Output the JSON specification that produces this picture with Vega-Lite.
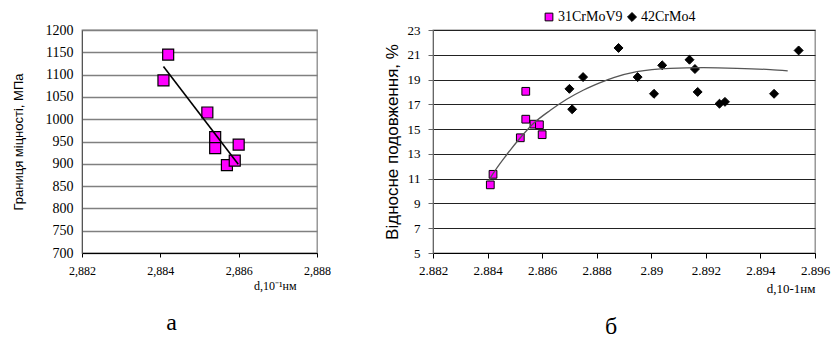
{
  "$schema": "https://vega.github.io/schema/vega-lite/v6.json",
  "background": "white",
  "padding": {"left": 11, "top": 10, "right": 0, "bottom": 0},
  "bounds": "flush",
  "spacing": 116,
  "datasets": {
    "strength": [
      {"d": 2.88408, "mpa": 1087},
      {"d": 2.8842, "mpa": 1145},
      {"d": 2.8852, "mpa": 1015},
      {"d": 2.8854, "mpa": 960},
      {"d": 2.8854, "mpa": 935},
      {"d": 2.8857, "mpa": 897},
      {"d": 2.8859, "mpa": 907},
      {"d": 2.886, "mpa": 943}
    ],
    "strengthTrend": [
      {"d": 2.88408, "mpa": 1118},
      {"d": 2.88599, "mpa": 899}
    ],
    "elong": [
      {"d": 2.8841, "e": 10.5, "steel": "31CrMoV9"},
      {"d": 2.8842, "e": 11.35, "steel": "31CrMoV9"},
      {"d": 2.8852, "e": 14.3, "steel": "31CrMoV9"},
      {"d": 2.8854, "e": 18.05, "steel": "31CrMoV9"},
      {"d": 2.8854, "e": 15.8, "steel": "31CrMoV9"},
      {"d": 2.8857, "e": 15.4, "steel": "31CrMoV9"},
      {"d": 2.8859, "e": 15.35, "steel": "31CrMoV9"},
      {"d": 2.886, "e": 14.55, "steel": "31CrMoV9"},
      {"d": 2.887, "e": 18.25, "steel": "42CrMo4"},
      {"d": 2.8871, "e": 16.6, "steel": "42CrMo4"},
      {"d": 2.8875, "e": 19.2, "steel": "42CrMo4"},
      {"d": 2.8888, "e": 21.55, "steel": "42CrMo4"},
      {"d": 2.8895, "e": 19.2, "steel": "42CrMo4"},
      {"d": 2.8901, "e": 17.85, "steel": "42CrMo4"},
      {"d": 2.8904, "e": 20.15, "steel": "42CrMo4"},
      {"d": 2.8914, "e": 20.6, "steel": "42CrMo4"},
      {"d": 2.8916, "e": 19.85, "steel": "42CrMo4"},
      {"d": 2.8917, "e": 18.0, "steel": "42CrMo4"},
      {"d": 2.8925, "e": 17.05, "steel": "42CrMo4"},
      {"d": 2.8927, "e": 17.2, "steel": "42CrMo4"},
      {"d": 2.8945, "e": 17.85, "steel": "42CrMo4"},
      {"d": 2.8954, "e": 21.35, "steel": "42CrMo4"}
    ],
    "elongTrend": [
      {"d": 2.88405, "e": 10.85},
      {"d": 2.8842, "e": 11.4},
      {"d": 2.8847, "e": 12.93},
      {"d": 2.8852, "e": 14.3},
      {"d": 2.88568, "e": 15.45},
      {"d": 2.8863, "e": 16.52},
      {"d": 2.8869, "e": 17.41},
      {"d": 2.88752, "e": 18.16},
      {"d": 2.88813, "e": 18.75},
      {"d": 2.88862, "e": 19.16},
      {"d": 2.88947, "e": 19.64},
      {"d": 2.89069, "e": 19.91},
      {"d": 2.89191, "e": 19.96},
      {"d": 2.89313, "e": 19.91},
      {"d": 2.89436, "e": 19.8},
      {"d": 2.895, "e": 19.7}
    ]
  },
  "hconcat": [
    {
      "width": 235,
      "height": 223,
      "title": {"text": "а", "orient": "bottom", "font": "Liberation Serif", "fontSize": 24, "fontWeight": "normal", "color": "#000", "offset": 20, "dx": -28},
      "encoding": {
        "x": {
          "field": "d", "type": "quantitative",
          "scale": {"domain": [2.882, 2.888], "zero": false, "nice": false},
          "axis": {
            "values": [2.882, 2.884, 2.886, 2.888],
            "labelExpr": "replace(format(datum.value, '.3f'), '.', ',')",
            "labelFlush": false,
            "grid": false,
            "domainColor": "#000",
            "tickColor": "#000",
            "tickSize": 4,
            "labelFont": "Liberation Serif",
            "labelFontSize": 12,
            "labelColor": "#000",
            "labelPadding": 8,
            "title": "d,10⁻¹нм",
            "titleFont": "Liberation Serif",
            "titleFontSize": 12,
            "titleFontWeight": "normal",
            "titleColor": "#000",
            "titleAnchor": "end",
            "titlePadding": 4,
            "titleX": 214
          }
        },
        "y": {
          "field": "mpa", "type": "quantitative",
          "scale": {"domain": [700, 1200], "zero": false, "nice": false},
          "axis": {
            "values": [700, 750, 800, 850, 900, 950, 1000, 1050, 1100, 1150, 1200],
            "format": "d",
            "grid": true,
            "gridColor": "#808080",
            "gridWidth": 1.3,
            "domainColor": "#555",
            "ticks": false,
            "labelFont": "Liberation Serif",
            "labelFontSize": 14,
            "labelColor": "#000",
            "labelPadding": 9,
            "title": "Границя міцності, МПа",
            "titleFont": "Liberation Sans",
            "titleFontSize": 13,
            "titleFontWeight": "normal",
            "titleColor": "#000",
            "titlePadding": 20
          }
        }
      },
      "layer": [
        {
          "data": {"name": "strength"},
          "mark": {"type": "square", "size": 121, "filled": true, "color": "#FF00FF", "stroke": "#000", "strokeWidth": 1.2, "opacity": 1}
        },
        {
          "data": {"name": "strengthTrend"},
          "mark": {"type": "line", "color": "#000", "strokeWidth": 1.6}
        }
      ]
    },
    {
      "width": 382,
      "height": 223,
      "title": {"text": "б", "orient": "bottom", "font": "Liberation Serif", "fontSize": 24, "fontWeight": "normal", "color": "#000", "offset": 20, "dx": -13},
      "encoding": {
        "x": {
          "field": "d", "type": "quantitative",
          "scale": {"domain": [2.882, 2.896], "zero": false, "nice": false},
          "axis": {
            "values": [2.882, 2.884, 2.886, 2.888, 2.89, 2.892, 2.894, 2.896],
            "labelExpr": "format(datum.value, '.4~f')",
            "labelFlush": false,
            "grid": false,
            "domainColor": "#000",
            "tickColor": "#000",
            "tickSize": 5,
            "labelFont": "Liberation Serif",
            "labelFontSize": 13,
            "labelColor": "#000",
            "labelPadding": 6,
            "title": "d,10-1нм",
            "titleFont": "Liberation Serif",
            "titleFontSize": 13,
            "titleFontWeight": "normal",
            "titleColor": "#000",
            "titleAnchor": "end",
            "titlePadding": 5
          }
        },
        "y": {
          "field": "e", "type": "quantitative",
          "scale": {"domain": [5, 23], "zero": false, "nice": false},
          "axis": {
            "values": [5, 7, 9, 11, 13, 15, 17, 19, 21, 23],
            "grid": true,
            "gridColor": "#222",
            "gridWidth": 1.2,
            "domainColor": "#666",
            "tickColor": "#666",
            "tickSize": 5,
            "labelFont": "Liberation Serif",
            "labelFontSize": 13,
            "labelColor": "#000",
            "labelPadding": 8,
            "title": "Відносне подовження, %",
            "titleFont": "Liberation Sans",
            "titleFontSize": 17,
            "titleFontWeight": "normal",
            "titleColor": "#000",
            "titlePadding": 6
          }
        }
      },
      "layer": [
        {
          "data": {"name": "elong"},
          "mark": {"type": "point", "filled": true, "stroke": "#000", "strokeWidth": 1, "opacity": 1},
          "encoding": {
            "color": {
              "field": "steel", "type": "nominal",
              "scale": {"domain": ["31CrMoV9", "42CrMo4"], "range": ["#FF00FF", "#000000"]},
              "legend": {
                "title": null, "orient": "none", "direction": "horizontal",
                "legendX": 460, "legendY": -20,
                "labelFont": "Liberation Serif", "labelFontSize": 14, "labelColor": "#000",
                "symbolSize": 80, "symbolStrokeColor": "#000", "symbolStrokeWidth": 1,
                "columnPadding": 2, "labelOffset": 2
              }
            },
            "shape": {
              "field": "steel", "type": "nominal",
              "scale": {"domain": ["31CrMoV9", "42CrMo4"], "range": ["square", "diamond"]},
              "legend": {
                "title": null, "orient": "none", "direction": "horizontal",
                "legendX": 460, "legendY": -20,
                "labelFont": "Liberation Serif", "labelFontSize": 14, "labelColor": "#000",
                "symbolSize": 80, "symbolStrokeColor": "#000", "symbolStrokeWidth": 1,
                "columnPadding": 2, "labelOffset": 2
              }
            },
            "size": {
              "field": "steel", "type": "nominal",
              "scale": {"domain": ["31CrMoV9", "42CrMo4"], "range": [60, 80]},
              "legend": null
            }
          }
        },
        {
          "data": {"name": "elongTrend"},
          "mark": {"type": "line", "color": "#555", "strokeWidth": 1.3, "interpolate": "monotone"}
        }
      ]
    }
  ],
  "config": {
    "font": "Liberation Serif",
    "view": {"stroke": "#888", "strokeWidth": 1.3}
  }
}
